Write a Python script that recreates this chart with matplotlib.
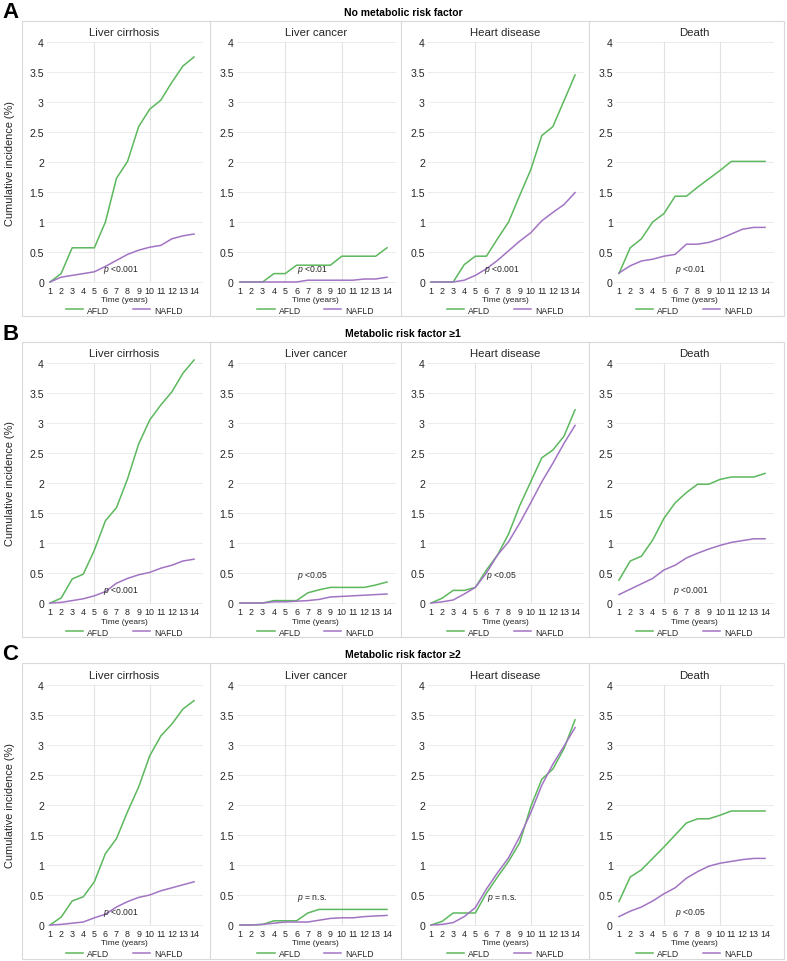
"""
plot.py
cumulative incidence of outcomes, AFLD vs NAFLD, by metabolic risk group.
"""

import matplotlib
matplotlib.use("Agg")
import matplotlib.pyplot as plt
from matplotlib.patches import Rectangle
from matplotlib.lines import Line2D

plt.rcParams["font.family"] = ["Liberation Sans", "DejaVu Sans"]
plt.rcParams["mathtext.fontset"] = "custom"
plt.rcParams["mathtext.it"] = "Liberation Sans:italic"
plt.rcParams["mathtext.rm"] = "Liberation Sans"

W, H = 787, 962

years = list(range(1, 15))
outcomes = ["Liver cirrhosis", "Liver cancer", "Heart disease", "Death"]
row_letters = ["A", "B", "C"]
row_titles = ["No metabolic risk factor", "Metabolic risk factor ≥1", "Metabolic risk factor ≥2"]
y_ticks = [0, 0.5, 1, 1.5, 2, 2.5, 3, 3.5, 4]
y_tick_labels = ["0", "0.5", "1", "1.5", "2", "2.5", "3", "3.5", "4"]

# A: no metabolic risk factor
afld_none_cirrhosis = [0, 0.14, 0.57, 0.57, 0.57, 1.0, 1.73, 2.01, 2.59, 2.88, 3.03, 3.33, 3.6, 3.75]
nafld_none_cirrhosis = [0, 0.08, 0.11, 0.14, 0.17, 0.26, 0.36, 0.46, 0.53, 0.58, 0.61, 0.72, 0.77, 0.8]
afld_none_cancer = [0, 0, 0, 0.14, 0.14, 0.28, 0.28, 0.28, 0.28, 0.43, 0.43, 0.43, 0.43, 0.57]
nafld_none_cancer = [0, 0, 0, 0, 0, 0, 0.03, 0.03, 0.03, 0.03, 0.03, 0.05, 0.05, 0.08]
afld_none_heart = [0, 0, 0, 0.29, 0.43, 0.43, 0.72, 1.0, 1.44, 1.87, 2.44, 2.59, 3.02, 3.45]
nafld_none_heart = [0, 0, 0, 0.03, 0.11, 0.22, 0.36, 0.52, 0.68, 0.82, 1.02, 1.16, 1.29, 1.49]
afld_none_death = [0.14, 0.57, 0.72, 1.0, 1.14, 1.43, 1.43, 1.58, 1.72, 1.86, 2.01, 2.01, 2.01, 2.01]
nafld_none_death = [0.15, 0.27, 0.35, 0.38, 0.43, 0.46, 0.63, 0.63, 0.66, 0.72, 0.8, 0.88, 0.91, 0.91]

# B: metabolic risk factor >= 1
afld_ge1_cirrhosis = [0, 0.08, 0.4, 0.48, 0.88, 1.37, 1.59, 2.07, 2.65, 3.05, 3.3, 3.52, 3.83, 4.05]
nafld_ge1_cirrhosis = [0, 0.01, 0.04, 0.07, 0.12, 0.19, 0.33, 0.41, 0.47, 0.51, 0.58, 0.63, 0.7, 0.73]
afld_ge1_cancer = [0, 0, 0, 0.04, 0.04, 0.04, 0.17, 0.22, 0.26, 0.26, 0.26, 0.26, 0.3, 0.35]
nafld_ge1_cancer = [0, 0, 0, 0.02, 0.02, 0.03, 0.04, 0.06, 0.1, 0.11, 0.12, 0.13, 0.14, 0.15]
afld_ge1_heart = [0, 0.08, 0.21, 0.21, 0.26, 0.55, 0.8, 1.15, 1.62, 2.02, 2.42, 2.55, 2.78, 3.22]
nafld_ge1_heart = [0, 0.02, 0.05, 0.15, 0.26, 0.5, 0.8, 1.02, 1.33, 1.67, 2.02, 2.33, 2.66, 2.96]
afld_ge1_death = [0.38, 0.7, 0.78, 1.05, 1.41, 1.67, 1.84, 1.98, 1.98, 2.06, 2.1, 2.1, 2.1, 2.16]
nafld_ge1_death = [0.14, 0.23, 0.32, 0.41, 0.55, 0.63, 0.75, 0.83, 0.9, 0.96, 1.01, 1.04, 1.07, 1.07]

# C: metabolic risk factor >= 2
afld_ge2_cirrhosis = [0, 0.13, 0.4, 0.47, 0.72, 1.19, 1.44, 1.89, 2.3, 2.82, 3.15, 3.35, 3.6, 3.74]
nafld_ge2_cirrhosis = [0, 0.01, 0.03, 0.05, 0.12, 0.18, 0.3, 0.39, 0.46, 0.5, 0.57, 0.62, 0.67, 0.72]
afld_ge2_cancer = [0, 0, 0.01, 0.07, 0.07, 0.07, 0.2, 0.26, 0.26, 0.26, 0.26, 0.26, 0.26, 0.26]
nafld_ge2_cancer = [0, 0, 0.01, 0.03, 0.05, 0.05, 0.05, 0.08, 0.11, 0.12, 0.12, 0.14, 0.15, 0.16]
afld_ge2_heart = [0, 0.06, 0.2, 0.2, 0.2, 0.53, 0.8, 1.06, 1.37, 1.97, 2.43, 2.6, 2.94, 3.42]
nafld_ge2_heart = [0, 0.01, 0.04, 0.14, 0.29, 0.6, 0.87, 1.12, 1.47, 1.87, 2.33, 2.68, 2.98, 3.29]
afld_ge2_death = [0.39, 0.8, 0.92, 1.11, 1.3, 1.5, 1.7, 1.77, 1.77, 1.83, 1.9, 1.9, 1.9, 1.9]
nafld_ge2_death = [0.14, 0.23, 0.3, 0.4, 0.52, 0.62, 0.78, 0.89, 0.98, 1.03, 1.06, 1.09, 1.11, 1.11]

p_none = ["<0.001", "<0.01", "<0.001", "<0.01"]
p_ge1 = ["<0.001", "<0.05", "<0.05", "<0.001"]
p_ge2 = ["<0.001", "= n.s.", "= n.s.", "<0.05"]

afld_rows = [
    [afld_none_cirrhosis, afld_none_cancer, afld_none_heart, afld_none_death],
    [afld_ge1_cirrhosis, afld_ge1_cancer, afld_ge1_heart, afld_ge1_death],
    [afld_ge2_cirrhosis, afld_ge2_cancer, afld_ge2_heart, afld_ge2_death],
]
nafld_rows = [
    [nafld_none_cirrhosis, nafld_none_cancer, nafld_none_heart, nafld_none_death],
    [nafld_ge1_cirrhosis, nafld_ge1_cancer, nafld_ge1_heart, nafld_ge1_death],
    [nafld_ge2_cirrhosis, nafld_ge2_cancer, nafld_ge2_heart, nafld_ge2_death],
]
p_rows = [p_none, p_ge1, p_ge2]

GREEN = "#5cb85c"
PURPLE = "#a274c4"
GRID = "#ececec"
VGRID = "#e2e2e2"
BOX = "#d9d9d9"
TXT = "#262626"

# layout in pixels
panel_x = [(46.7, 201.8), (236.6, 394.9), (427.7, 582.8), (615.6, 772.9)]
row_axes_y = [(43, 283), (364, 604), (686, 926)]
row_box_y = [(22, 317), (343, 638), (664, 960)]
row_head_y = [13, 334, 655]
row_ptitle_y = [33, 354, 676]
row_time_y = [300, 623, 944]
row_legend_y = [311, 633, 955]
box_x = (22, 784)
sep_x = [210, 401, 589]
# p label y in data units (upper position for the panels where lines sit low)
p_label_y = [[0.12, 0.12, 0.12, 0.12], [0.11, 0.37, 0.37, 0.11], [0.11, 0.36, 0.37, 0.11]]


def fx(px):
    return px / W


def fy(py):
    return 1 - py / H


fig = plt.figure(figsize=(W / 100, H / 100), dpi=100)

for r in range(3):
    by0, by1 = row_box_y[r]
    fig.add_artist(Rectangle((fx(box_x[0]), fy(by1)), fx(box_x[1] - box_x[0]), (by1 - by0) / H,
                             transform=fig.transFigure, fill=False, edgecolor=BOX, lw=0.8))
    for sx in sep_x:
        fig.add_artist(Line2D([fx(sx), fx(sx)], [fy(by0), fy(by1)],
                              transform=fig.transFigure, color=BOX, lw=0.8))

    fig.text(fx(2), fy(row_head_y[r]), row_letters[r], fontsize=16, fontweight="bold",
             ha="left", va="center")
    fig.text(fx(403), fy(row_head_y[r]), row_titles[r], fontsize=7.5, fontweight="bold",
             ha="center", va="center")

    ay4, ay0 = row_axes_y[r]
    fig.text(fx(10), fy((ay4 + ay0) / 2), "Cumulative incidence (%)", fontsize=7.9,
             rotation=90, ha="center", va="center", color=TXT)

    for c in range(4):
        x0, x1 = panel_x[c]
        ax = fig.add_axes([fx(x0), fy(ay0), (x1 - x0) / W, (ay0 - ay4) / H])
        ax.set_xlim(0.7, 14.7)
        ax.set_ylim(0, 4)
        for s in ax.spines.values():
            s.set_visible(False)
        for yv in y_ticks:
            ax.axhline(yv, color=GRID, lw=0.7, zorder=0, clip_on=False)
        for xv in (5, 10):
            ax.axvline(xv, color=VGRID, lw=0.8, zorder=0)

        la, = ax.plot(years, afld_rows[r][c], color=GREEN, lw=1.1, clip_on=False, label="AFLD")
        ln, = ax.plot(years, nafld_rows[r][c], color=PURPLE, lw=1.1, clip_on=False, label="NAFLD")

        ax.set_xticks(years)
        ax.set_xticklabels([str(y) for y in years], fontsize=6.4, color=TXT)
        ax.set_yticks(y_ticks)
        ax.set_yticklabels(y_tick_labels, fontsize=7.6, color=TXT)
        ax.tick_params(axis="both", length=0)
        ax.tick_params(axis="y", pad=2)
        ax.tick_params(axis="x", pad=3)

        ax.text(7.4, p_label_y[r][c], r"$p$ " + p_rows[r][c], fontsize=6.2, color=TXT,
                ha="center", va="bottom")

        cx = (x0 + x1) / 2
        fig.text(fx(cx), fy(row_ptitle_y[r]), outcomes[c], fontsize=8.2, ha="center", va="center",
                 color=TXT)
        fig.text(fx(cx), fy(row_time_y[r]), "Time (years)", fontsize=6, ha="center",
                 va="center", color=TXT)
        leg = ax.legend(handles=[la, ln], loc="center", bbox_to_anchor=(fx(cx), fy(row_legend_y[r])),
                        bbox_transform=fig.transFigure, ncol=2, frameon=False, fontsize=6.2,
                        handlelength=2.0, handletextpad=0.5, columnspacing=2.7, borderpad=0)
        for t in leg.get_texts():
            t.set_color(TXT)

fig.savefig("out.png", dpi=100)
